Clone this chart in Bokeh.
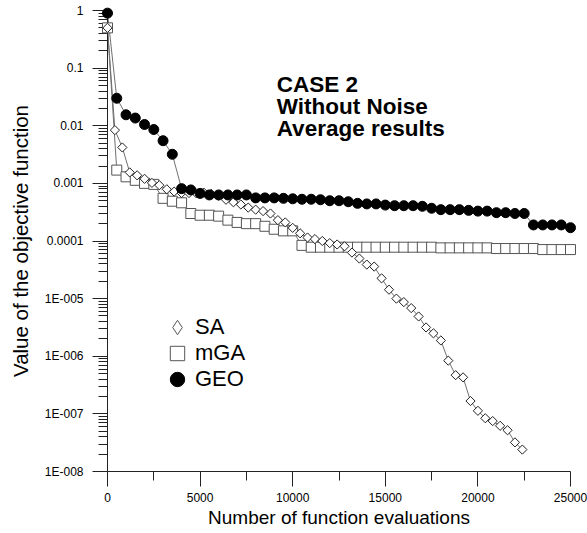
from bokeh.plotting import figure
from bokeh.models import (Range1d, FixedTicker, CustomJSTickFormatter, Legend, LegendItem, Label)
from bokeh.embed import file_html
from bokeh.resources import INLINE
import math

# ---- data ----
x_ga_geo = list(range(0, 25001, 500))
geo = [0.9, 0.030, 0.0155, 0.0136, 0.0105, 0.0086, 0.0055, 0.0032, 0.00081, 0.00077,
       0.00067, 0.00063, 0.00063, 0.00063, 0.00063, 0.00063, 0.00056, 0.00056, 0.00056, 0.00055,
       0.00054, 0.00053, 0.00053, 0.00052, 0.00050, 0.00050, 0.00048, 0.00045, 0.00044, 0.00044,
       0.00042, 0.00041, 0.00041, 0.00041, 0.00040, 0.00037, 0.00035, 0.00035, 0.00035, 0.00034,
       0.00033, 0.00033, 0.00031, 0.00031, 0.00030, 0.00030, 0.00019, 0.00019, 0.00019, 0.00019,
       0.00017]
mga = [0.5, 0.0017, 0.0013, 0.00113, 0.0010, 0.00096, 0.00055, 0.00049, 0.00046, 0.00030,
       0.00028, 0.00028, 0.00027, 0.00023, 0.00021, 0.00020, 0.00020, 0.00018, 0.00016, 0.00015,
       0.00015, 8.4e-5, 7.8e-5, 7.8e-5, 7.8e-5, 7.8e-5, 7.8e-5, 7.8e-5, 7.8e-5, 7.8e-5,
       7.8e-5, 7.8e-5, 7.8e-5, 7.8e-5, 7.8e-5, 7.8e-5, 7.6e-5, 7.6e-5, 7.6e-5, 7.6e-5,
       7.6e-5, 7.6e-5, 7.4e-5, 7.4e-5, 7.4e-5, 7.4e-5, 7.4e-5, 7.1e-5, 7.1e-5, 7.1e-5,
       7.1e-5]
x_sa = list(range(0, 22401, 400))
sa = [0.5, 0.0084, 0.0042, 0.00155, 0.00138, 0.0012, 0.00102, 0.00093, 0.00079, 0.00072,
      0.00068, 0.00068, 0.00067, 0.00069, 0.00066, 0.00061, 0.00052, 0.00047, 0.00043, 0.00038,
      0.00035, 0.00033, 0.00030, 0.00023, 0.00021, 0.000169, 0.000136, 0.000115, 0.000108, 0.000100,
      9.2e-5, 8.7e-5, 8.1e-5, 6.3e-5, 4.96e-5, 3.9e-5, 3.6e-5, 2.25e-5, 1.43e-5, 1.0e-5,
      8.7e-6, 6.85e-6, 4.9e-6, 3.16e-6, 2.5e-6, 1.88e-6, 8.4e-7, 4.7e-7, 4.3e-7, 1.67e-7,
      1.13e-7, 8.4e-8, 7.5e-8, 6.2e-8, 5.2e-8, 3.2e-8, 2.4e-8]

x_major = [0, 5000, 10000, 15000, 20000, 25000]
x_minor = [2500, 7500, 12500, 17500, 22500]
y_major = [1e-8, 1e-7, 1e-6, 1e-5, 1e-4, 1e-3, 1e-2, 1e-1, 1.0]
y_minor = [k * 10.0 ** e for e in range(-8, 0) for k in range(2, 10)]

series_names = ["SA", "mGA", "GEO"]
title_lines = ["CASE 2", "Without Noise", "Average results"]

FONT = "Liberation Sans"
NAN = float("nan")

p = figure(width=587, height=533, x_range=Range1d(0, 25000), y_range=Range1d(1e-8, 1),
           y_axis_type="log", output_backend="svg", toolbar_location=None,
           min_border_left=107, min_border_right=17, min_border_top=10, min_border_bottom=62)
p.outline_line_color = None
p.grid.visible = False
p.background_fill_color = "white"
p.border_fill_color = "white"

p.xaxis.ticker = FixedTicker(ticks=x_major, minor_ticks=x_minor)
p.yaxis.ticker = FixedTicker(ticks=y_major, minor_ticks=y_minor)
p.yaxis.formatter = CustomJSTickFormatter(code="""
const e = Math.round(Math.log10(tick));
if (e >= 0) return "1";
if (e >= -4) return (Math.pow(10, e)).toFixed(-e);
return "1E-" + String(-e).padStart(3, "0");
""")

for ax in (p.xaxis[0], p.yaxis[0]):
    ax.axis_line_color = "#222222"
    ax.major_tick_line_color = "#222222"
    ax.minor_tick_line_color = "#222222"
    ax.major_tick_in = 0
    ax.major_tick_out = 15
    ax.minor_tick_in = 0
    ax.minor_tick_out = 9
    ax.major_label_text_font = FONT
    ax.major_label_text_font_size = "12px"
    ax.major_label_text_color = "black"
    ax.axis_label_text_font = FONT
    ax.axis_label_text_font_style = "normal"
    ax.axis_label_text_color = "black"

p.xaxis.axis_label = "Number of function evaluations"
p.yaxis.axis_label = "Value of the objective function"
p.xaxis.axis_label_text_font_size = "19px"
p.yaxis.axis_label_text_font_size = "20.5px"
p.xaxis.major_label_standoff = 6
p.yaxis.major_label_standoff = 9
p.xaxis.axis_label_standoff = 2
p.yaxis.axis_label_standoff = 10

LINE = "#707070"
p.line(x_ga_geo, mga, line_color=LINE, line_width=1)
p.line(x_sa, sa, line_color=LINE, line_width=1)
p.line(x_ga_geo, geo, line_color=LINE, line_width=1)

p.scatter(x_ga_geo, mga, marker="square", size=10, fill_color="white",
          line_color="#555555", line_width=1, level="overlay")
p.scatter(x_sa, sa, marker="square", angle=math.pi / 4, size=6.5, fill_color="white",
          line_color="#222222", line_width=1, level="overlay")
p.scatter(x_ga_geo, geo, marker="circle", size=10, fill_color="black",
          line_color="black", line_width=1, level="overlay")

# legend-only glyphs (no visible data)
l_sa = p.scatter([NAN], [NAN], marker="diamond", fill_color="white", line_color="#555555", line_width=1)
l_mga = p.scatter([NAN], [NAN], marker="square", fill_color="white", line_color="#555555", line_width=1)
l_geo = p.scatter([NAN], [NAN], marker="circle", fill_color="black", line_color="black")

for name, rend, vy in zip(series_names, [l_sa, l_mga, l_geo], [126, 100, 74]):
    lg = Legend(items=[LegendItem(label=name, renderers=[rend])],
                location=(52, vy), glyph_width=36, glyph_height=36,
                label_standoff=0, padding=0, margin=0,
                label_text_font=FONT, label_text_font_size="22px",
                label_text_color="black", label_text_baseline="middle",
                border_line_color=None, background_fill_alpha=0)
    p.add_layout(lg)

ty = [0.052, 0.0212, 0.0091]
for t, yv in zip(title_lines, ty):
    p.add_layout(Label(x=9136, y=yv, text=t, text_font=FONT, text_font_style="bold",
                       text_font_size="22.5px", text_baseline="alphabetic", text_color="black"))

open("out.html", "w").write(file_html(p, INLINE))
